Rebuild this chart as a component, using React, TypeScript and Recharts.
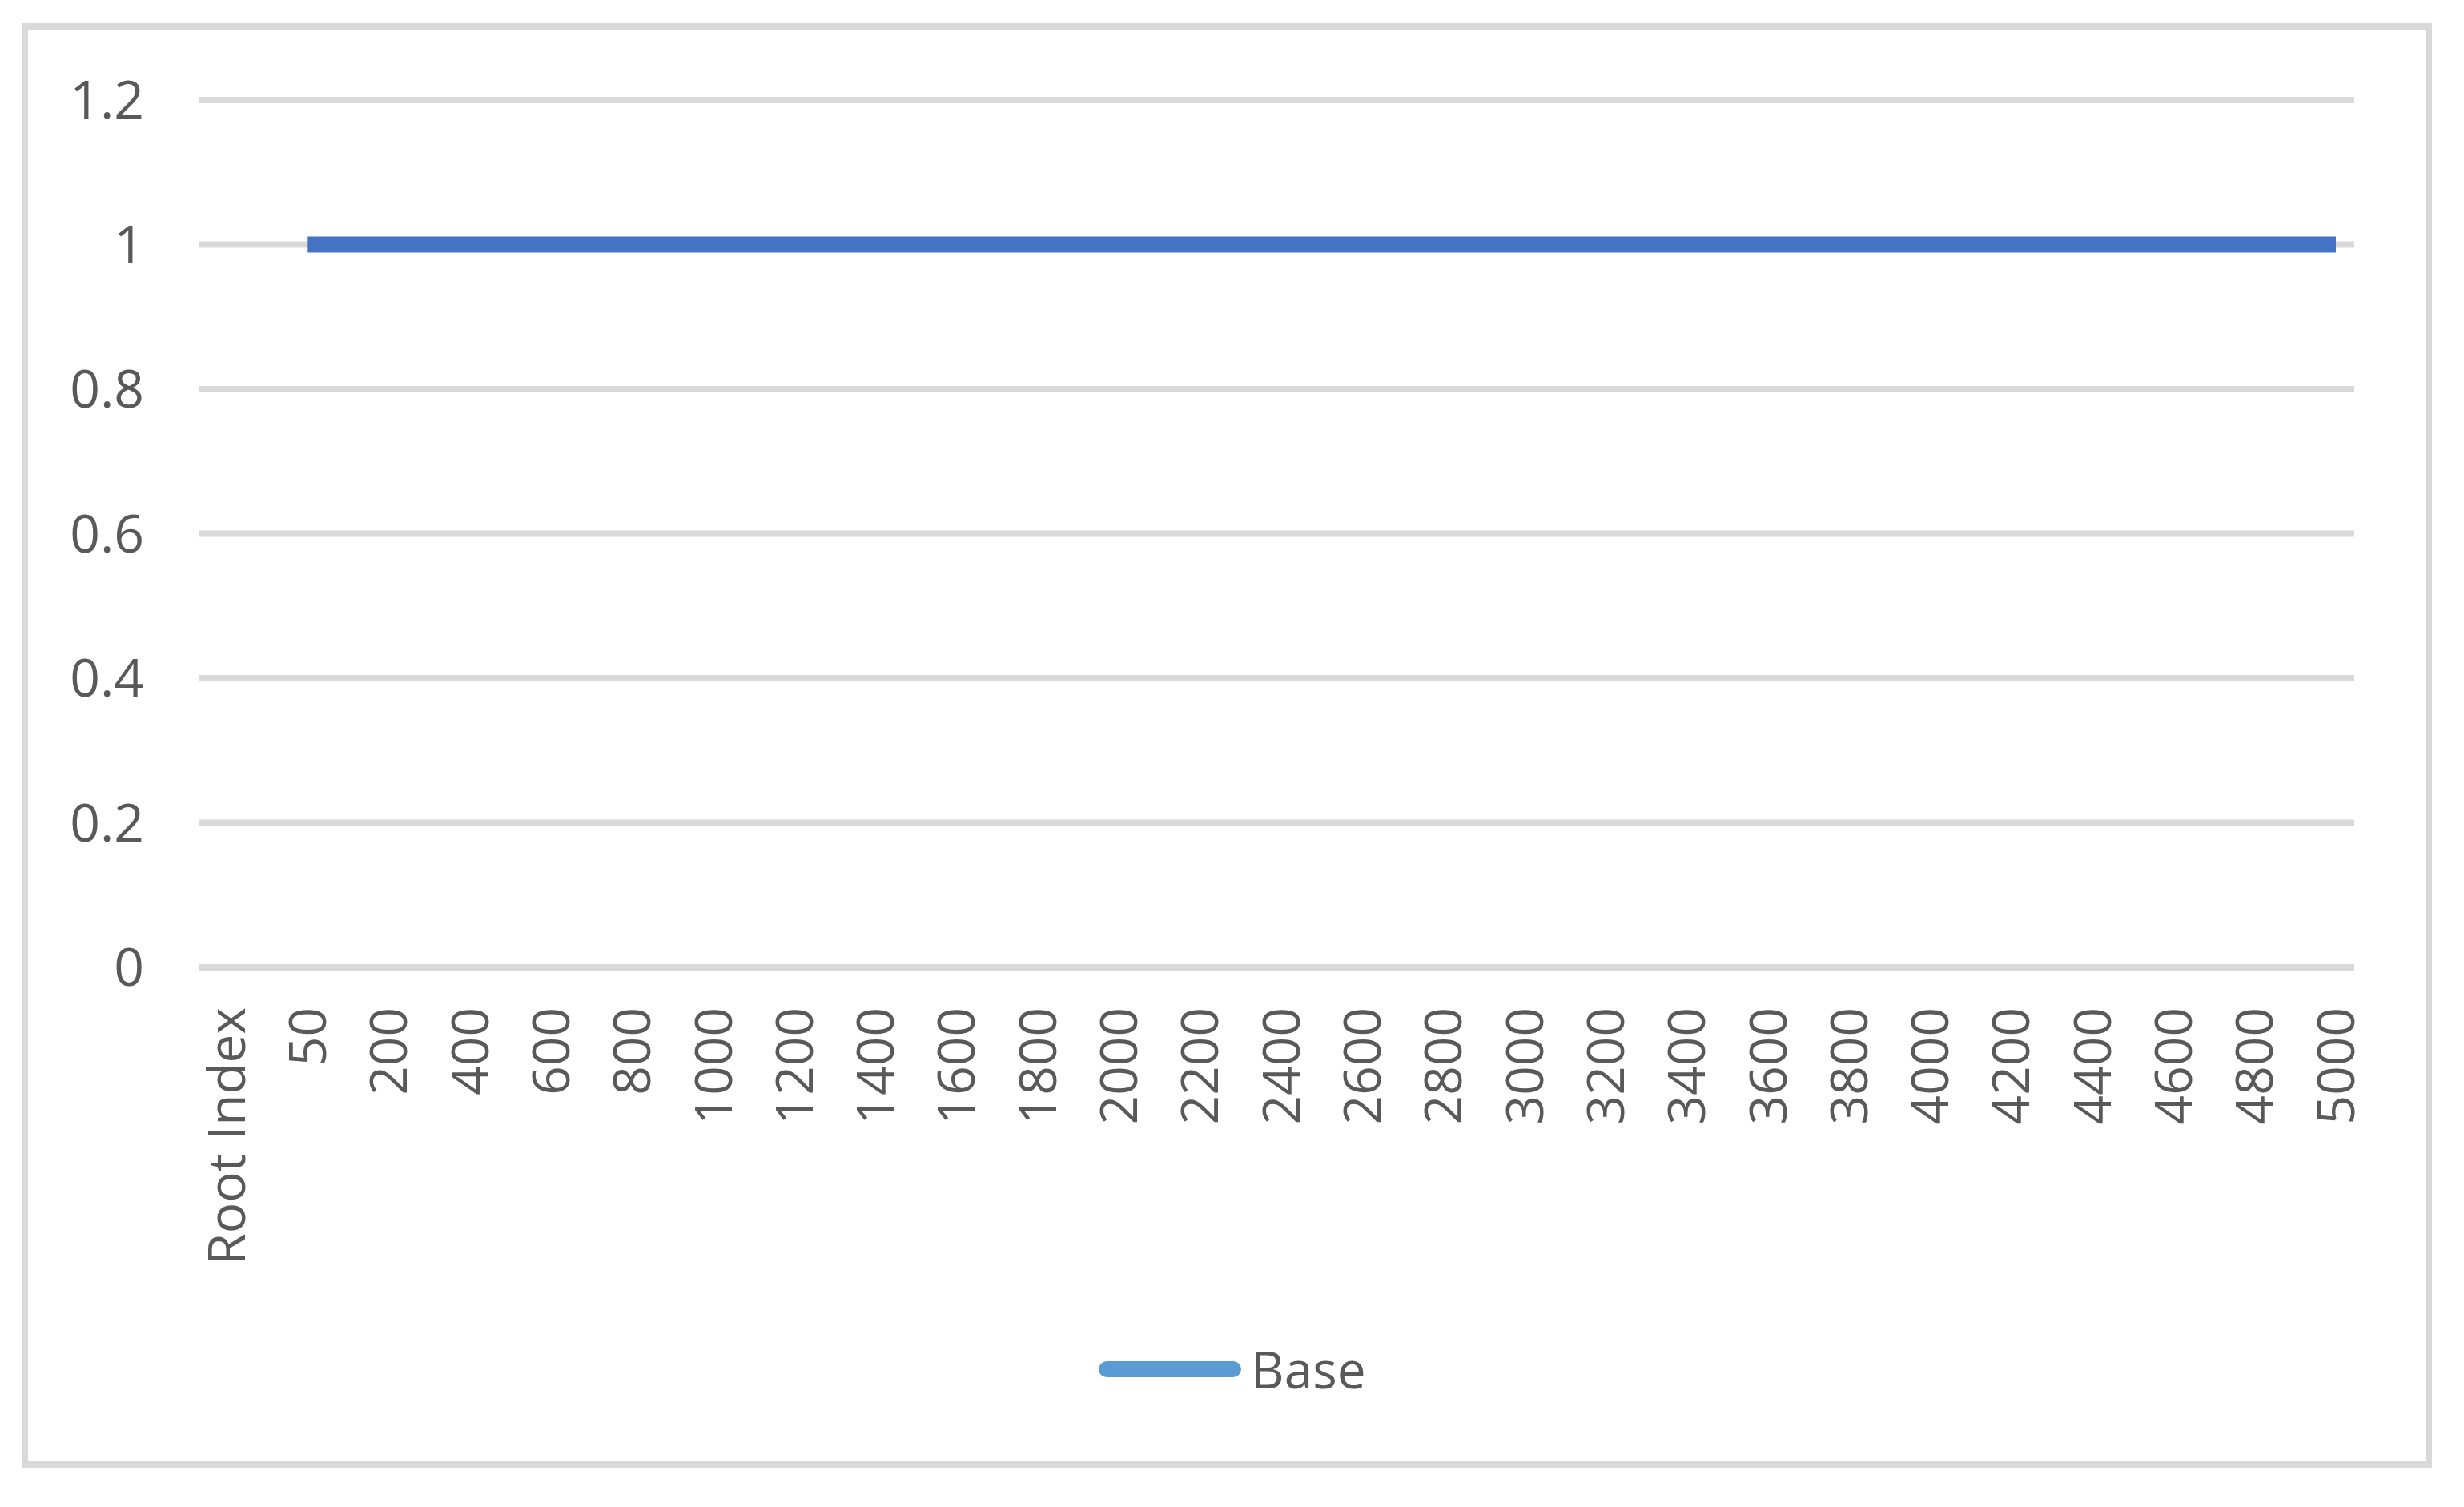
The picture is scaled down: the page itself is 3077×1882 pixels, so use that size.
import { CartesianGrid, Legend, Line, LineChart, XAxis, YAxis } from 'recharts';

const categories = [
	'Root Index', '50', '200', '400', '600', '800', '1000', '1200', '1400',
	'1600', '1800', '2000', '2200', '2400', '2600', '2800', '3000', '3200',
	'3400', '3600', '3800', '4000', '4200', '4400', '4600', '4800', '5000',
];

// the header row has no value, every root index after it sits at 1
const baseValues = [
	null, 1, 1, 1, 1, 1, 1, 1, 1,
	1, 1, 1, 1, 1, 1, 1, 1, 1,
	1, 1, 1, 1, 1, 1, 1, 1, 1,
];

const yTicks = [0, 0.2, 0.4, 0.6, 0.8, 1, 1.2];
const yTickLabels = ['0', '0.2', '0.4', '0.6', '0.8', '1', '1.2'];

const data = categories.map((root, i) => ({ root, base: baseValues[i] }));

const font = "'Open Sans', 'Noto Sans', sans-serif";
const textColor = '#595959';

function RotatedTick({ x, y, payload }: any) {
	return (
		<text
			x={x}
			y={y}
			dy='0.355em'
			transform={`rotate(-90, ${x}, ${y})`}
			textAnchor='end'
			fill={textColor}
			fontSize={64}
			fontFamily={font}
		>
			{payload.value}
		</text>
	);
}

function LegendContent({ payload }: any) {
	return (
		<div style={{ display: 'flex', justifyContent: 'center', alignItems: 'center' }}>
			{(payload || []).map((p: any) => (
				<div key={p.value} style={{ display: 'flex', alignItems: 'center' }}>
					<svg width={180} height={22}>
						<line x1={11} y1={11} x2={169} y2={11} stroke='#5B9BD5' strokeWidth={20} strokeLinecap='round' />
					</svg>
					<span style={{ marginLeft: 11, fontSize: 64, color: textColor, fontFamily: font }}>{p.value}</span>
				</div>
			))}
		</div>
	);
}

export default function App() {
	return (
		<div style={{ position: 'absolute', left: 0, top: 0, width: 3077, height: 1882, background: '#fff' }}>
			<div
				style={{
					position: 'absolute',
					left: 27,
					top: 29,
					width: 3010,
					height: 1804,
					border: '8px solid #D9D9D9',
					boxSizing: 'border-box',
				}}
			/>
			<LineChart
				width={3077}
				height={1882}
				data={data}
				margin={{ top: 125, right: 137, left: 0, bottom: 274 }}
				style={{ position: 'absolute', left: 0, top: 0 }}
			>
				<CartesianGrid vertical={false} stroke='#D9D9D9' strokeWidth={8} />
				<XAxis
					dataKey='root'
					interval={0}
					height={400}
					padding={{ left: 35, right: 23 }}
					axisLine={false}
					tickLine={false}
					tickSize={0}
					tickMargin={50}
					tick={<RotatedTick />}
				/>
				<YAxis
					width={248}
					domain={[0, 1.2]}
					ticks={yTicks}
					tickFormatter={(v: number) => yTickLabels[yTicks.indexOf(v)] ?? String(v)}
					axisLine={false}
					tickLine={false}
					tickSize={0}
					tickMargin={68}
					tick={{ fill: textColor, fontSize: 66, fontFamily: font }}
				/>
				<Legend
					layout='horizontal'
					verticalAlign='middle'
					align='center'
					content={<LegendContent />}
					wrapperStyle={{ top: 1666, left: 0, width: 3077 }}
				/>
				<Line
					type='linear'
					dataKey='base'
					name='Base'
					stroke='#4472C4'
					strokeWidth={20}
					dot={false}
					activeDot={false}
					isAnimationActive={false}
				/>
			</LineChart>
		</div>
	);
}
